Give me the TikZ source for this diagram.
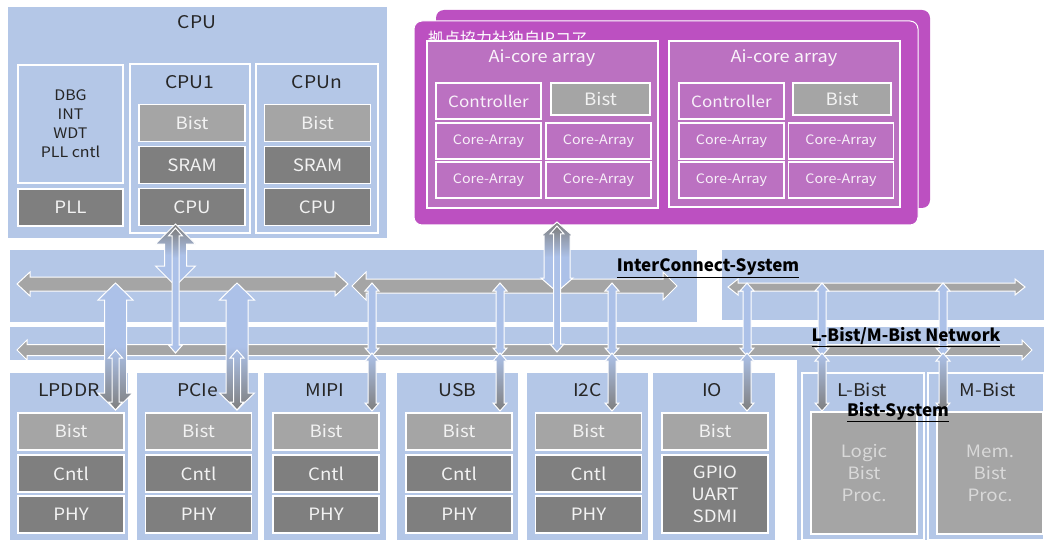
\documentclass[tikz,border=0pt]{standalone}
\usepackage{fontspec}
\setmainfont{Noto Sans CJK JP}[FakeStretch=1.1]
\newfontfamily\jpfont{Noto Sans CJK JP}
\usetikzlibrary{calc}
\definecolor{ltblue}{RGB}{180,199,231}
\definecolor{arrblue}{RGB}{172,193,232}
\definecolor{lgray}{RGB}{165,165,165}
\definecolor{dgray}{RGB}{127,127,127}
\definecolor{purp}{RGB}{188,80,193}
\definecolor{purpl}{RGB}{187,113,193}
\definecolor{ink}{RGB}{38,38,38}
\definecolor{boxtxt}{RGB}{242,242,242}
\pgfdeclareverticalshading{topfade}{100bp}{color(0bp)=(arrblue); color(63bp)=(arrblue); color(75bp)=(dgray); color(100bp)=(dgray)}
% block arrows: style, top/left end, bottom/right end, shaft half, head half, head length
\newcommand\varrow[6]{%
  \path[#1] let \p1=(#2), \p2=(#3) in
    (\x1,\y1) -- (\x1+#5,\y1-#6) -- (\x1+#4,\y1-#6) -- (\x1+#4,\y2+#6)
    -- (\x1+#5,\y2+#6) -- (\x1,\y2) -- (\x1-#5,\y2+#6) -- (\x1-#4,\y2+#6)
    -- (\x1-#4,\y1-#6) -- (\x1-#5,\y1-#6) -- cycle;}
\newcommand\harrow[6]{%
  \path[#1] let \p1=(#2), \p2=(#3) in
    (\x1,\y1) -- (\x1+#6,\y1+#5) -- (\x1+#6,\y1+#4) -- (\x2-#6,\y1+#4)
    -- (\x2-#6,\y1+#5) -- (\x2,\y1) -- (\x2-#6,\y1-#5) -- (\x2-#6,\y1-#4)
    -- (\x1+#6,\y1-#4) -- (\x1+#6,\y1-#5) -- cycle;}
\tikzset{
  panel/.style={fill=ltblue,inner sep=0pt},
  frame/.style={draw=white,line width=1.3pt,fill=#1,inner sep=0pt},
  frame/.default=ltblue,
  unit/.style={draw=white,line width=1.3pt,fill=#1,text=boxtxt,inner sep=0pt,
    minimum width=106pt,minimum height=37pt,font=\fontsize{17}{20}\selectfont},
  unit/.default=dgray,
  cell/.style={draw=white,line width=1.3pt,fill=purpl,text=white!90!purpl,inner sep=0pt,
    minimum width=105pt,minimum height=36pt,font=\fontsize{13}{15}\selectfont},
  ttl/.style={text=ink,font=\fontsize{17.5}{20}\selectfont},
  sysname/.style={text=black,font=\jpfont\fontsize{17}{20}\selectfont\bfseries},
  bus/.style={fill=lgray,draw=white,line width=1pt},
  tap/.style={fill=arrblue,draw=white,line width=1pt},
  big/.style={draw=white,line width=1pt},
}
\begin{document}
\begin{tikzpicture}[x=1pt,y=-1pt]
\useasboundingbox (0,0) rectangle (1044,540);
% bands
\node[panel,minimum width=687pt,minimum height=72pt] (icl) at (353.5,286) {};
\node[panel,minimum width=322pt,minimum height=70pt] (icr) at (883,285) {};
\node[panel,minimum width=1034pt,minimum height=33pt] (net) at (527,343.5) {};
\node[panel,minimum width=247pt,minimum height=181pt] (bsys) at (920.5,450.5) {};
% CPU cluster
\node[panel,minimum width=379pt,minimum height=231pt] (cpu) at (197.5,122.5) {};
\node[ttl] (cputtl) at (197,22) {CPU};
\node[frame,minimum width=105pt,minimum height=118pt,text=ink,align=center,
  font=\fontsize{14.5}{19}\selectfont] (dbg) at (70.5,124) {DBG\\INT\\WDT\\PLL cntl};
\node[unit,minimum width=105pt] (pll) at (70.5,207.5) {PLL};
\node[frame,minimum width=120pt,minimum height=169pt] (cpuone) at (190,148.5) {};
\node[ttl] (cpuonettl) at (190,82) {CPU1};
\node[unit=lgray] (bistone) at (192,123) {Bist};
\node[unit] (sramone) at (192,165) {SRAM};
\node[unit] (coreone) at (192,207) {CPU};
\node[frame,minimum width=122pt,minimum height=169pt] (cpun) at (317,148.5) {};
\node[ttl] (cpunttl) at (317,82) {CPUn};
\node[unit=lgray] (bistn) at (317.5,123) {Bist};
\node[unit] (sramn) at (317.5,165) {SRAM};
\node[unit] (coren) at (317.5,207) {CPU};
% partner IP
\node[fill=purp,rounded corners=8pt,inner sep=0pt,minimum width=494pt,minimum height=198pt] (aipback) at (683,109) {};
\node[draw=white,line width=1pt,fill=purp,rounded corners=8pt,inner sep=0pt,minimum width=504pt,minimum height=204pt] (aip) at (666,123) {};
\node[anchor=north west,inner sep=0pt,text=white,font=\jpfont\fontsize{16}{18}\selectfont] (aipttl) at (428,31) {拠点協力社独自IPコア};
\node[frame=purpl,minimum width=231pt,minimum height=167pt] (aica) at (542.5,124.5) {};
\node[text=white!92!purpl,font=\fontsize{16.5}{19}\selectfont] (aicattl) at (542,58) {Ai-core array};
\node[cell,font=\fontsize{15.5}{18}\selectfont] (ctla) at (488.5,101) {Controller};
\node[unit=lgray,minimum width=99pt,minimum height=32pt] (bista) at (600.5,99) {Bist};
\node[cell] (caa1) at (488.5,141) {Core-Array};
\node[cell] (caa2) at (598.5,141) {Core-Array};
\node[cell] (caa3) at (488.5,180) {Core-Array};
\node[cell] (caa4) at (598.5,180) {Core-Array};
\node[frame=purpl,minimum width=231pt,minimum height=166pt] (aicb) at (784.5,124) {};
\node[text=white!92!purpl,font=\fontsize{16.5}{19}\selectfont] (aicbttl) at (784,58) {Ai-core array};
\node[cell,font=\fontsize{15.5}{18}\selectfont] (ctlb) at (731.5,101) {Controller};
\node[unit=lgray,minimum width=98pt,minimum height=32pt] (bistb) at (842,99) {Bist};
\node[cell] (cab1) at (731.5,141) {Core-Array};
\node[cell] (cab2) at (841,141) {Core-Array};
\node[cell] (cab3) at (731.5,180) {Core-Array};
\node[cell] (cab4) at (841,180) {Core-Array};
% peripherals
\foreach \nm/\bx/\bw/\ix/\t in {lpddr/69/118/71/LPDDR,pcie/197.5/121/198.5/PCIe,mipi/325/122/326/MIPI,
    usb/457.5/121/459/USB,itwoc/587.5/121/588.5/I2C}{
  \node[panel,minimum width=\bw pt,minimum height=167pt] (\nm) at (\bx,456.5) {};
  \node[ttl] (\nm ttl) at (\bx,390) {\t};
  \node[unit=lgray] (\nm bist) at (\ix,431.5) {Bist};
  \node[unit] (\nm cntl) at (\ix,473.5) {Cntl};
  \node[unit] (\nm phy) at (\ix,514.5) {PHY};
}
\node[panel,minimum width=122pt,minimum height=167pt] (io) at (714,456.5) {};
\node[ttl] (iottl) at (712,390) {IO};
\node[unit=lgray] (iobist) at (715,431.5) {Bist};
\node[unit,minimum height=78pt,align=center,font=\fontsize{17}{22}\selectfont] (iogpio) at (715,494) {GPIO\\UART\\SDMI};
% bist system
\node[frame,minimum width=122pt,minimum height=167pt] (lbist) at (863,456.5) {};
\node[ttl] (lbistttl) at (862,390) {L-Bist};
\node[unit=lgray,minimum height=122pt,text=white!85!black,align=center,font=\fontsize{17}{22}\selectfont] (logic) at (864,473) {Logic\\Bist\\Proc.};
\node[frame,minimum width=116pt,minimum height=167pt] (mbist) at (986,456.5) {};
\node[ttl] (mbistttl) at (988,390) {M-Bist};
\node[unit=lgray,minimum height=122pt,text=white!85!black,align=center,font=\fontsize{17}{22}\selectfont] (mem) at (990,473) {Mem.\\Bist\\Proc.};
% buses
\coordinate (busaw) at (17,284);  \coordinate (busae) at (348,284);
\coordinate (busbw) at (352,286); \coordinate (busbe) at (677,286);
\coordinate (buscw) at (728,287); \coordinate (busce) at (1025,287);
\coordinate (netw) at (17,350);   \coordinate (nete) at (1032,350);
\harrow{bus}{busaw}{busae}{7pt}{12pt}{13pt}
\harrow{bus}{busbw}{busbe}{7pt}{14pt}{14pt}
\harrow{bus}{buscw}{busce}{4pt}{8pt}{10pt}
\harrow{bus}{netw}{nete}{5.5pt}{10pt}{10pt}
% taps down to the blocks
\foreach \xx/\nm in {372/mipi,500/usb,612/itwoc,747/io,822/lbist,943/mbist}{
  \coordinate (\nm up) at (\xx,283);
  \coordinate (\nm mid) at (\xx,356);
  \coordinate (\nm in) at (\xx,353);
  \coordinate (\nm tip) at (\xx,411);
  \varrow{tap}{\nm up}{\nm mid}{4pt}{7pt}{8pt}
  \varrow{tap,top color=arrblue,bottom color=dgray}{\nm in}{\nm tip}{4pt}{7pt}{8pt}
}
% wide links
\coordinate (cput) at (175.5,224); \coordinate (cpub) at (175.5,286);
\coordinate (cputt) at (175.5,228); \coordinate (cpubb) at (175.5,353);
\varrow{big,top color=dgray,bottom color=arrblue,middle color=arrblue}{cput}{cpub}{11pt}{20pt}{20pt}
\varrow{tap,shade,shading=topfade}{cputt}{cpubb}{3.5pt}{7pt}{8pt}
\coordinate (ait) at (557,222); \coordinate (aib) at (557,292);
\coordinate (aitt) at (557,226); \coordinate (aibb) at (557,352);
\varrow{big,top color=dgray,bottom color=arrblue,middle color=arrblue}{ait}{aib}{13pt}{16pt}{14pt}
\varrow{tap,shade,shading=topfade}{aitt}{aibb}{3.5pt}{7pt}{8pt}
\foreach \xx/\nm in {115.5/ddr,237/pci}{
  \coordinate (\nm t) at (\xx,283); \coordinate (\nm b) at (\xx,410);
  \coordinate (\nm tt) at (\xx,350);
  \varrow{big,top color=arrblue,bottom color=dgray,middle color=arrblue}{\nm t}{\nm b}{11pt}{17.5pt}{17pt}
  \varrow{tap,top color=arrblue,bottom color=dgray}{\nm tt}{\nm b}{3.5pt}{7pt}{8pt}
}
% system names
\node[sysname] (icname) at (708,268) {\underline{InterConnect-System}};
\node[sysname] (netname) at (906,337) {\underline{L-Bist/M-Bist Network}};
\node[sysname] (bsysname) at (898,412) {\underline{Bist-System}};
\end{tikzpicture}
\end{document}
